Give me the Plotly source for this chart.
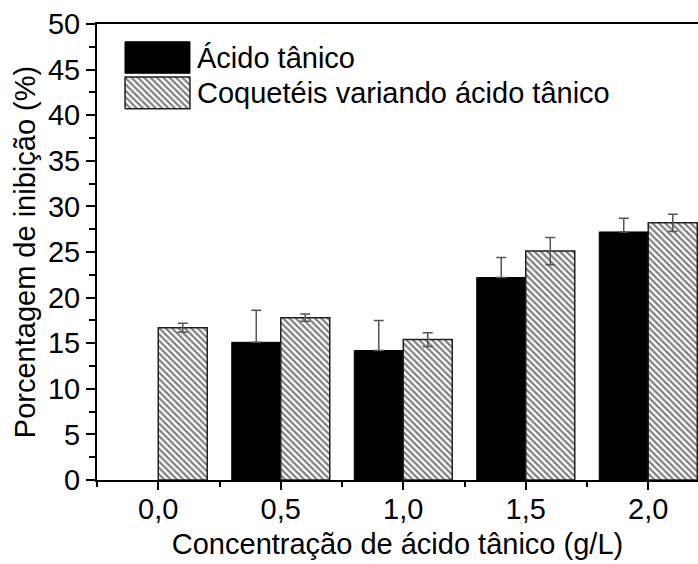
import plotly.graph_objects as go

# Concentração de ácido tânico (g/L)
concentracao = [0.0, 0.5, 1.0, 1.5, 2.0]
tick_labels = ["0,0", "0,5", "1,0", "1,5", "2,0"]

# Porcentagem de inibição (%) e desvios
acido_tanico = [0.0, 15.1, 14.2, 22.2, 27.2]
acido_tanico_err = [0.0, 3.5, 3.3, 2.2, 1.5]
coqueteis = [16.7, 17.8, 15.4, 25.1, 28.2]
coqueteis_err = [0.5, 0.4, 0.75, 1.5, 0.95]

nomes = ["Ácido tânico", "Coquetéis variando ácido tânico"]

FONT = "Liberation Sans, Arial, sans-serif"
FS = 29
BAR_W = 0.2
hatch = dict(shape="\\", size=4.5, solidity=0.5, fgcolor="black", bgcolor="white")
err_style = dict(type="data", visible=True, color="#555555", thickness=1.5, width=5)

# Sem barra para a concentração 0,0 na série de ácido tânico
x_at = [c for c, v in zip(concentracao, acido_tanico) if v > 0]
y_at = [v for v in acido_tanico if v > 0]
e_at = [e for v, e in zip(acido_tanico, acido_tanico_err) if v > 0]

fig = go.Figure()
fig.add_trace(go.Bar(
    x=x_at, y=y_at, width=BAR_W, offset=-BAR_W,
    marker=dict(color="black", line=dict(color="black", width=1)),
    error_y=dict(array=e_at, arrayminus=[0] * len(e_at), symmetric=False, **err_style),
    name=nomes[0], showlegend=False,
))
fig.add_trace(go.Bar(
    x=concentracao, y=coqueteis, width=BAR_W, offset=0,
    marker=dict(color="white", pattern=hatch, line=dict(color="#222222", width=1.5)),
    error_y=dict(array=coqueteis_err, **err_style),
    name=nomes[1], showlegend=False,
))

# Legenda desenhada em eixos auxiliares (coordenadas 0–1 da área do gráfico)
leg_x0, leg_x1 = 0.0466, 0.1547
leg_rows = [(0.961, 0.892), (0.884, 0.814)]
leg_styles = [
    dict(fillcolor="black", line=dict(color="black", width=1)),
    dict(fillcolor="white", fillpattern=hatch, line=dict(color="#222222", width=1.5)),
]
for (top, bot), sty, nome in zip(leg_rows, leg_styles, nomes):
    fig.add_trace(go.Scatter(
        x=[leg_x0, leg_x1, leg_x1, leg_x0, leg_x0],
        y=[bot, bot, top, top, bot],
        fill="toself", mode="lines", xaxis="x2", yaxis="y2",
        showlegend=False, hoverinfo="skip", **sty,
    ))
    fig.add_annotation(
        x=leg_x1 + 0.008, y=(top + bot) / 2, xref="x2", yref="y2",
        text=nome, showarrow=False, xanchor="left", yanchor="middle",
        font=dict(family=FONT, size=FS, color="black"),
    )

fig.update_layout(
    width=698, height=564,
    margin=dict(l=97, r=0, t=24, b=84),
    paper_bgcolor="white", plot_bgcolor="white",
    barmode="overlay",
    font=dict(family=FONT, size=FS, color="black"),
    xaxis=dict(
        range=[-0.25, 2.203],
        tickmode="array", tickvals=concentracao, ticktext=tick_labels,
        ticks="outside", ticklen=8, tickwidth=1.5, tickcolor="black",
        ticklabelstandoff=-6,
        minor=dict(tickmode="array", tickvals=[-0.25, 0.25, 0.75, 1.25, 1.75],
                   ticks="outside", ticklen=5, tickwidth=1.5, tickcolor="black"),
        showline=True, linecolor="black", linewidth=2, mirror=True,
        showgrid=False, zeroline=False,
        title=dict(text="Concentração de ácido tânico (g/L)", standoff=10,
                   font=dict(size=FS)),
        tickfont=dict(size=FS),
    ),
    yaxis=dict(
        range=[0, 50],
        tickmode="linear", tick0=0, dtick=5,
        ticks="outside", ticklen=9, tickwidth=1.5, tickcolor="black",
        minor=dict(tickmode="linear", tick0=2.5, dtick=5,
                   ticks="outside", ticklen=6, tickwidth=1.5, tickcolor="black"),
        showline=True, linecolor="black", linewidth=2,
        showgrid=False, zeroline=False,
        title=dict(text="Porcentagem de inibição (%)", standoff=4,
                   font=dict(size=FS)),
        tickfont=dict(size=FS),
    ),
    xaxis2=dict(range=[0, 1], overlaying="x", visible=False, fixedrange=True),
    yaxis2=dict(range=[0, 1], overlaying="y", visible=False, fixedrange=True),
)

fig.write_html("out.html")
